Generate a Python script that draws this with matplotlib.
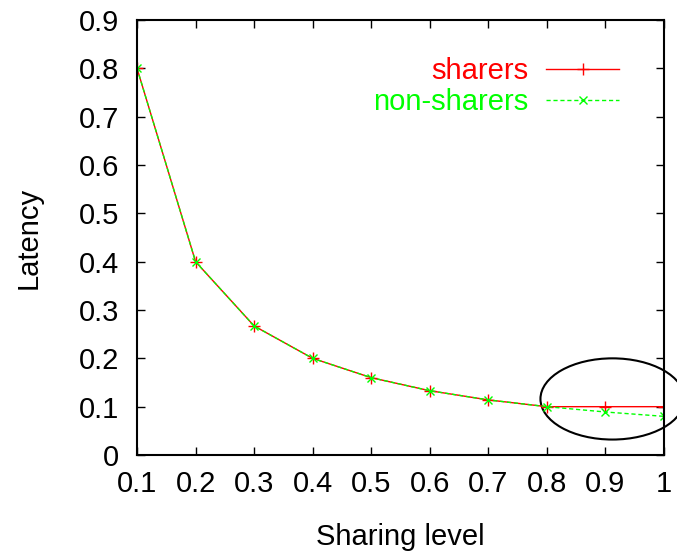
import matplotlib
matplotlib.use('Agg')
import matplotlib.pyplot as plt
from matplotlib.patches import Ellipse

sharing_level = [0.1, 0.2, 0.3, 0.4, 0.5, 0.6, 0.7, 0.8, 0.9, 1.0]
sharers = [0.8, 0.4, 0.267, 0.2, 0.16, 0.133, 0.114, 0.1, 0.1, 0.1]
non_sharers = [0.8, 0.4, 0.267, 0.2, 0.16, 0.133, 0.114, 0.1, 0.089, 0.08]
x_ticks = [0.1, 0.2, 0.3, 0.4, 0.5, 0.6, 0.7, 0.8, 0.9, 1.0]
x_ticklabels = ['0.1', '0.2', '0.3', '0.4', '0.5', '0.6', '0.7', '0.8', '0.9', '1']
y_ticks = [0, 0.1, 0.2, 0.3, 0.4, 0.5, 0.6, 0.7, 0.8, 0.9]
y_ticklabels = ['0', '0.1', '0.2', '0.3', '0.4', '0.5', '0.6', '0.7', '0.8', '0.9']

plt.rcParams['font.family'] = ['Liberation Sans', 'DejaVu Sans']
fs = 21

fig = plt.figure(figsize=(6.77, 5.51), dpi=100)
ax = fig.add_axes([0.2024, 0.1742, 0.7784, 0.7895])

ax.plot(sharing_level, sharers, color='#ff0000', lw=1, marker='+', ms=8,
        mew=1, label='sharers')
ax.plot(sharing_level, non_sharers, color='#00ff00', lw=1, ls=(0, (3, 2)),
        marker='x', ms=6, mew=1, label='non-sharers')

# highlight the region where the curves separate
ax.add_patch(Ellipse((0.912, 0.116), 0.246, 0.168, fill=False,
                     edgecolor='black', lw=1.5, clip_on=False))

ax.set_xlim(0.1, 1.0)
ax.set_ylim(0, 0.9)
ax.set_xticks(x_ticks)
ax.set_xticklabels(x_ticklabels)
ax.set_yticks(y_ticks)
ax.set_yticklabels(y_ticklabels)
ax.tick_params(direction='in', top=True, right=True, length=6, width=1,
               labelsize=fs)
ax.tick_params(axis='x', pad=11)
ax.tick_params(axis='y', pad=13)
for s in ax.spines.values():
    s.set_linewidth(1.5)

ax.set_xlabel('Sharing level', fontsize=fs, labelpad=18)
ax.set_ylabel('Latency', fontsize=fs, labelpad=26)

ax.legend(loc='upper right', bbox_to_anchor=(0.915, 0.915), frameon=False,
          markerfirst=False, fontsize=fs, labelcolor='linecolor',
          handlelength=2.5, handletextpad=0.6, labelspacing=0.1,
          borderpad=0, borderaxespad=0, numpoints=1)

fig.savefig('out.png', dpi=100)
plt.close(fig)
